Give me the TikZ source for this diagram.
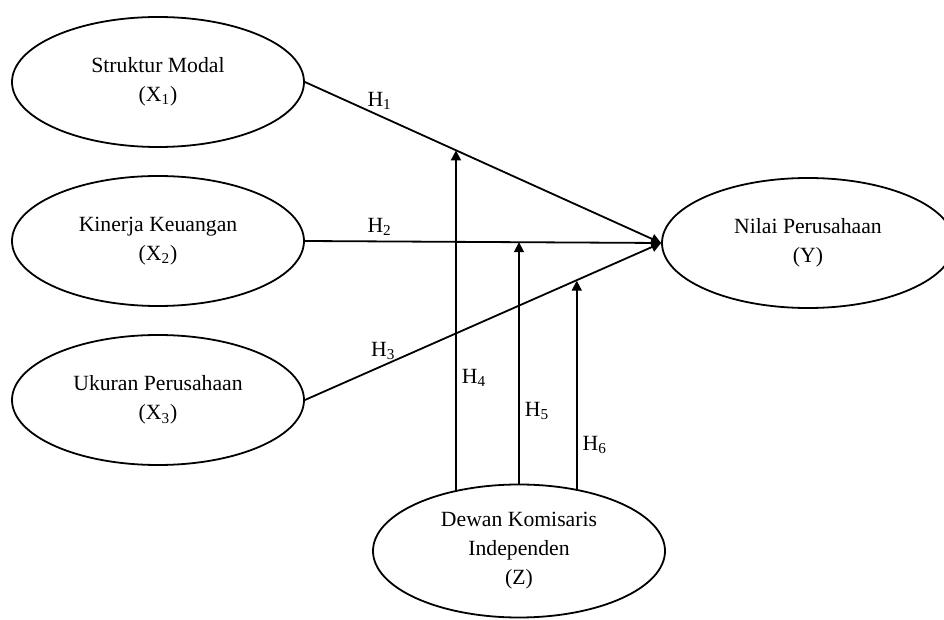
\documentclass[tikz,border=0pt]{standalone}
\usepackage{fontspec}
\setmainfont{Liberation Serif}
\usetikzlibrary{shapes.geometric,arrows.meta,positioning}

\tikzstyle{variabel} = [ellipse, minimum width=146pt, minimum height=65pt, inner sep=0pt, align=center, draw=black, line width=0.9pt]
\tikzstyle{moderasi} = [ellipse, minimum width=146pt, minimum height=66.5pt, inner sep=0pt, align=center, draw=black, line width=0.9pt]
\tikzstyle{hlabel} = [inner sep=2.5pt]
\tikzstyle{arrow} = [line width=0.9pt,-{Triangle[length=5pt,width=5pt]}]

\begin{document}
\begin{tikzpicture}[x=0.5pt,y=-0.5pt,node distance=79.5pt,font=\fontsize{10.85}{14.5}\selectfont]
	\useasboundingbox (0,0) rectangle (944,620);
	
	\node (x1) [variabel] at (158,82) {Struktur Modal\\(X\textsubscript{1})};
	\node (x2) [variabel, below of=x1] {Kinerja Keuangan\\(X\textsubscript{2})};
	\node (x3) [variabel, below of=x2] {Ukuran Perusahaan\\(X\textsubscript{3})};
	\node (y) [variabel, right of=x2, xshift=245.5pt, yshift=-1pt] {Nilai Perusahaan\\(Y)};
	\node (z) [moderasi, below of=x3, xshift=180.5pt, yshift=4pt] {Dewan Komisaris\\Independen\\(Z)};
	
	\draw [arrow] (x1.east) -- coordinate[pos=.425] (m1) node[hlabel, pos=.21, above] {H\textsubscript{1}} (y.west);
	\draw [arrow] (x2.east) -- coordinate[pos=.598] (m2) node[hlabel, pos=.21, above] {H\textsubscript{2}} (y.west);
	\draw [arrow] (x3.east) -- coordinate[pos=.76] (m3) node[hlabel, pos=.22, above] {H\textsubscript{3}} (y.west);
	
	\draw [arrow] (z.136.4) -- node[hlabel, pos=.33, right] {H\textsubscript{4}} (z.136.4 |- m1);
	\draw [arrow] (z.north) -- node[hlabel, pos=.30, right] {H\textsubscript{5}} (z.north |- m2);
	\draw [arrow] (z.47) -- node[hlabel, pos=.21, right] {H\textsubscript{6}} (z.47 |- m3);
	
\end{tikzpicture}
\end{document}
